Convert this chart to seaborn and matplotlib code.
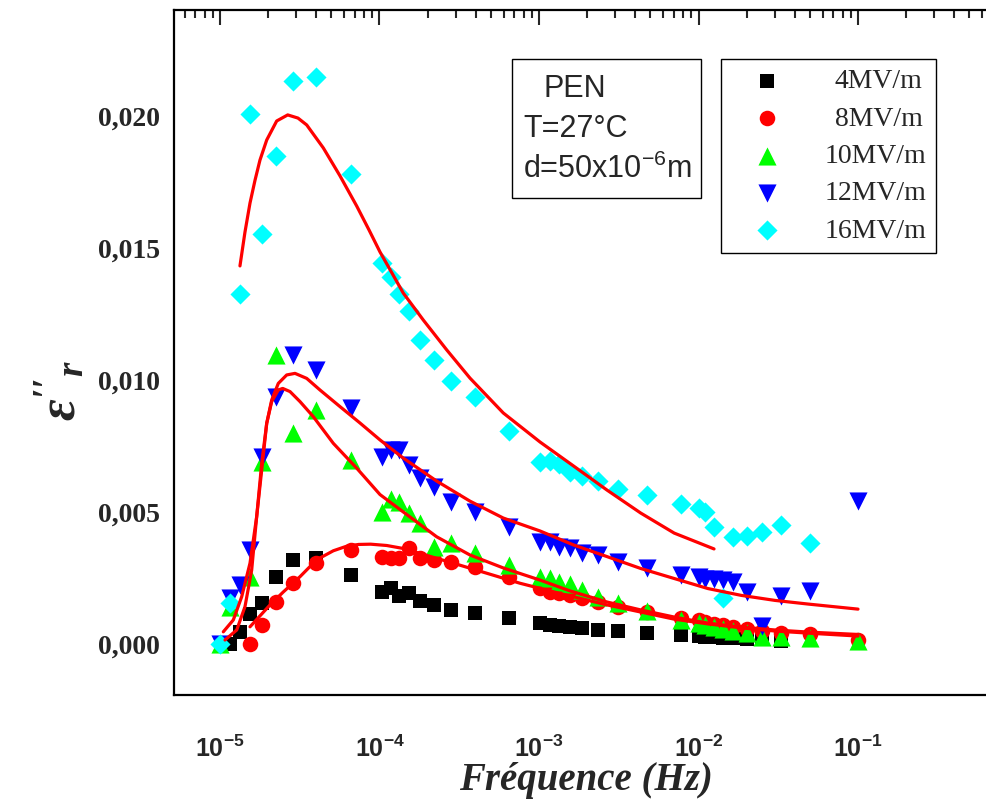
import numpy as np
import matplotlib
matplotlib.use("Agg")
import matplotlib.pyplot as plt
import seaborn as sns
from matplotlib import font_manager
from matplotlib.ticker import LogLocator, MultipleLocator, NullFormatter
from matplotlib.patches import Rectangle

nan = np.nan

# frequencies (Hz) shared by the measured series
freq = [1.0e-5, 1.16e-5, 1.33e-5, 1.55e-5, 1.83e-5, 2.24e-5, 2.87e-5, 4.0e-5, 6.65e-5,
        1.03e-4, 1.18e-4, 1.33e-4, 1.52e-4, 1.8e-4, 2.2e-4, 2.82e-4, 3.97e-4, 6.5e-4,
        1.02e-3, 1.17e-3, 1.34e-3, 1.56e-3, 1.87e-3, 2.35e-3, 3.14e-3, 4.77e-3, 7.72e-3,
        1.0e-2, 1.1e-2, 1.25e-2, 1.43e-2, 1.65e-2, 2.0e-2, 2.5e-2, 3.3e-2, 5.0e-2, 1.0e-1]

eps_4 = [nan, 0.0, 0.00045, 0.00113, 0.00153, 0.00254, 0.00317, 0.00323, 0.0026,
         0.00197, 0.0021, 0.0018, 0.00191, 0.0016, 0.00147, 0.00128, 0.00115, 0.00096,
         0.00077, 0.00071, 0.00066, 0.00064, 0.00058, 0.00053, 0.00047, 0.0004, 0.00034,
         0.00028, 0.00026, 0.00024, 0.00022, 0.0002, 0.00018, 0.00016, 0.00012, nan, nan]

eps_8 = [nan, nan, nan, 0.0, 0.0007, 0.00159, 0.00229, 0.00305, 0.00355,
         0.0033, 0.00323, 0.00323, 0.00361, 0.00323, 0.00317, 0.00311, 0.00292, 0.00254,
         0.0021, 0.00197, 0.00191, 0.00184, 0.00172, 0.00159, 0.0014, 0.00121, 0.00096,
         0.0009, 0.00082, 0.00076, 0.0007, 0.00064, 0.00055, 0.00048, 0.0004, 0.00035, 0.00013]

eps_10 = [0.0, 0.0014, nan, 0.00254, 0.0069, 0.01094, 0.00797, 0.00885, 0.00696,
          0.005, 0.0055, 0.00538, 0.00494, 0.00456, 0.00367, 0.0038, 0.00342, 0.00298,
          0.00254, 0.00248, 0.00235, 0.00226, 0.00203, 0.00178, 0.00153, 0.00124, 0.0009,
          0.00077, 0.0007, 0.00062, 0.00055, 0.0005, 0.0004, 0.00027, 0.00024, 0.0002, 0.00011]

eps_12 = [0.0, 0.00175, 0.00222, 0.00355, 0.00708, 0.00936, 0.01094, 0.01035, 0.00892,
          0.00708, 0.00734, 0.00734, 0.00677, 0.00626, 0.00595, 0.00538, 0.005, 0.00443,
          0.00385, 0.00386, 0.00367, 0.00361, 0.00342, 0.00336, 0.00311, 0.00286, 0.0026,
          0.00252, 0.00245, 0.00245, 0.00242, 0.00235, 0.00195, 0.00068, 0.0018, 0.002, 0.0054]

eps_16 = [0.0, 0.00154, 0.01324, 0.02005, 0.01553, 0.01848, 0.02133, 0.02148, 0.0178,
          0.01441, 0.0139, 0.01323, 0.01261, 0.0115, 0.01075, 0.00996, 0.00936, 0.00807,
          0.00687, 0.00692, 0.0068, 0.00652, 0.00635, 0.00616, 0.00586, 0.00563, 0.00529,
          0.00513, 0.005, 0.00443, 0.00172, 0.00405, 0.00409, 0.00424, 0.0045, 0.00383, nan]

# fitted curves
fit16_f = [1.334e-5, 1.434e-5, 1.542e-5, 1.657e-5, 1.781e-5, 1.963e-5, 2.267e-5, 2.658e-5,
           3.083e-5, 3.496e-5, 4.443e-5, 5.655e-5, 7.194e-5, 8.6e-5, 1.007e-4, 1.2e-4, 1.41e-4,
           1.882e-4, 2.638e-4, 3.693e-4, 5.971e-4, 1.015e-3, 1.648e-3, 2.668e-3, 4.34e-3,
           7.04e-3, 1.251e-2]
fit16_v = [0.01431, 0.01559, 0.01669, 0.01755, 0.01832, 0.01908, 0.0198, 0.02003,
           0.01991, 0.01965, 0.01878, 0.01772, 0.01658, 0.01567, 0.01484, 0.01403, 0.01328,
           0.01226, 0.01113, 0.01006, 0.00874, 0.00764, 0.00673, 0.00582, 0.00495,
           0.00419, 0.00359]

fit12_f = [1.049e-5, 1.212e-5, 1.368e-5, 1.542e-5, 1.698e-5, 1.826e-5, 1.963e-5, 2.109e-5,
           2.32e-5, 2.619e-5, 2.953e-5, 3.496e-5, 4.236e-5, 5.655e-5, 7.546e-5, 1.007e-4,
           1.41e-4, 2.283e-4, 3.693e-4, 5.971e-4, 1.015e-3, 1.648e-3, 2.668e-3, 4.34e-3,
           7.04e-3, 1.144e-2, 1.855e-2, 3.017e-2, 4.894e-2, 1.0e-1]
fit12_v = [0.00045, 0.0009, 0.00178, 0.00305, 0.00481, 0.00658, 0.00835, 0.00923,
           0.00986, 0.01018, 0.01024, 0.01005, 0.00961, 0.00898, 0.00836, 0.00772,
           0.00703, 0.00616, 0.0054, 0.00476, 0.00427, 0.00374, 0.0033, 0.00285,
           0.00247, 0.00209, 0.00183, 0.00164, 0.0015, 0.00131]

fit10_f = [1.075e-5, 1.273e-5, 1.434e-5, 1.58e-5, 1.698e-5, 1.826e-5, 1.963e-5, 2.109e-5,
           2.32e-5, 2.472e-5, 2.748e-5, 3.175e-5, 3.846e-5, 5.133e-5, 7.194e-5, 1.007e-4,
           1.41e-4, 2.283e-4, 3.693e-4, 5.971e-4, 1.015e-3, 1.565e-3, 2.668e-3, 4.34e-3,
           7.04e-3, 1.144e-2, 1.855e-2, 3.017e-2, 4.894e-2, 1.0e-1]
fit10_v = [0.00014, 0.00052, 0.0014, 0.00279, 0.00481, 0.00683, 0.00835, 0.00917,
           0.00961, 0.00967, 0.00955, 0.00917, 0.0086, 0.00759, 0.00665, 0.00565,
           0.00499, 0.00405, 0.00336, 0.00287, 0.00241, 0.002, 0.00158, 0.00128,
           0.00101, 0.00078, 0.00063, 0.00052, 0.00044, 0.00035]

fit8_f = [1.542e-5, 2.059e-5, 2.494e-5, 3.175e-5, 4.04e-5, 5.133e-5, 6.2e-5, 7.4e-5, 8.8e-5,
          1.11e-4, 1.4e-4, 1.794e-4, 2.902e-4, 4.699e-4, 7.6e-4, 1.172e-3, 1.565e-3,
          2.668e-3, 4.34e-3, 7.04e-3, 1.144e-2, 1.855e-2, 3.017e-2, 4.894e-2, 1.0e-1]
fit8_v = [0.00064, 0.00147, 0.00196, 0.00254, 0.00318, 0.00352, 0.00369, 0.00376, 0.00377,
          0.00372, 0.00361, 0.00342, 0.00305, 0.00267, 0.00229, 0.002, 0.00181,
          0.00147, 0.0012, 0.00093, 0.00075, 0.0006, 0.00048, 0.0004, 0.00029]

labels = ["4MV/m", "8MV/m", "10MV/m", "12MV/m", "16MV/m"]
xticks = [1e-5, 1e-4, 1e-3, 1e-2, 1e-1]
xtick_labels = [r"$\mathregular{10^{-5}}$", r"$\mathregular{10^{-4}}$", r"$\mathregular{10^{-3}}$",
                r"$\mathregular{10^{-2}}$", r"$\mathregular{10^{-1}}$"]
yticks = [0.0, 0.005, 0.010, 0.015, 0.020]
ytick_labels = ["0,000", "0,005", "0,010", "0,015", "0,020"]

sns.set_style("white")
plt.rcParams["font.family"] = ["Liberation Serif", "DejaVu Serif"]

names = {f.name for f in font_manager.fontManager.ttflist}
narrow = "Liberation Sans Narrow" if "Liberation Sans Narrow" in names else "Liberation Sans"

fig = plt.figure(figsize=(9.87, 8.0), dpi=100)
ax = fig.add_axes([174 / 987, 105 / 800, 823 / 987, 685 / 800])
ax.set_xscale("log")

series = [
    (labels[0], eps_4, "#000000", "s", 100),
    (labels[1], eps_8, "#ff0000", "o", 125),
    (labels[2], eps_10, "#00ff00", "^", 170),
    (labels[3], eps_12, "#0000ff", "v", 170),
    (labels[4], eps_16, "#00ffff", "D", 105),
]
for lab, vals, col, mk, sz in series:
    sns.scatterplot(x=freq, y=vals, color=col, marker=mk, s=sz, linewidth=0,
                    label=lab, ax=ax, zorder=3)

for f, v in [(fit16_f, fit16_v), (fit12_f, fit12_v), (fit10_f, fit10_v), (fit8_f, fit8_v)]:
    sns.lineplot(x=f, y=v, color="#ff0000", lw=2.3, sort=False, estimator=None,
                 legend=False, ax=ax, zorder=4)

ax.set_xlim(5.148e-6, 0.7437)
ax.set_ylim(-0.001943, 0.024004)

ax.set_xticks(xticks)
ax.set_xticklabels(xtick_labels, fontfamily=narrow, fontweight="bold", fontsize=18)
ax.xaxis.set_minor_locator(LogLocator(base=10, subs=np.arange(2, 10), numticks=30))
ax.xaxis.set_minor_formatter(NullFormatter())
ax.set_yticks(yticks)
ax.set_yticklabels(ytick_labels, fontweight="bold", fontsize=20)
ax.yaxis.set_minor_locator(MultipleLocator(0.0025))

ax.tick_params(which="both", direction="in", top=True, right=False, width=1.5)
ax.tick_params(which="major", length=11)
ax.tick_params(which="minor", length=6)
ax.tick_params(axis="x", which="major", pad=29)
ax.tick_params(axis="y", which="major", pad=10)
for s in ["left", "bottom", "top"]:
    ax.spines[s].set_linewidth(1.6)
    ax.spines[s].set_color("black")
ax.spines["right"].set_visible(False)

ax.set_xlabel("Fréquence (Hz)", fontweight="bold", fontstyle="italic", fontsize=28, labelpad=0)
ax.set_ylabel(r"$\mathregular{ε''_{r}}$", fontweight="bold", fontstyle="italic", fontsize=38)
ax.yaxis.set_label_coords(-0.105, 0.445)

# info box
ax.add_patch(Rectangle((0.4107, 0.7255), 0.2296, 0.203, transform=ax.transAxes,
                       fill=False, lw=1.0, ec="black", zorder=5))
info = dict(transform=ax.transAxes, fontfamily="Liberation Sans", fontsize=22, va="baseline")
ax.text(0.4484, 0.8730, "PEN", **info)
ax.text(0.4241, 0.8146, "T=27°C", **info)
ax.text(0.4241, 0.7547, r"d=50x10$\mathregular{^{-6}}$m", **info)

handles, labs = ax.get_legend_handles_labels()
leg = ax.legend(handles, labs, loc="upper left", bbox_to_anchor=(0.6643, 0.9285),
                frameon=True, fancybox=False, edgecolor="black", framealpha=1,
                prop={"family": "Liberation Serif", "size": 20}, borderpad=0.35,
                labelspacing=0.43, handlelength=2.6, handletextpad=0.8, borderaxespad=0)
leg.get_frame().set_linewidth(1.0)

# right-align the legend labels
fig.canvas.draw()
widths = [t.get_window_extent().width for t in leg.get_texts()]
w = max(widths)
for t, wi in zip(leg.get_texts(), widths):
    t.set_position(((w - wi) * 72.0 / fig.dpi, 0))

fig.savefig("out.png", dpi=100)
